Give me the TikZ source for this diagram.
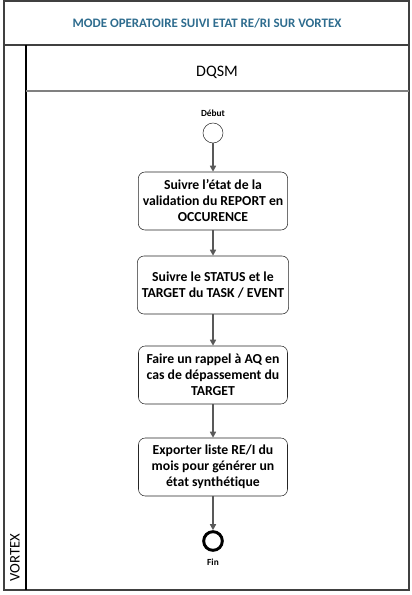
\documentclass[tikz,border=0pt]{standalone}
\usepackage{fontspec}
\setmainfont{Carlito}[Ligatures=NoCommon]
\usetikzlibrary{arrows.meta}
\definecolor{titrebleu}{HTML}{2E6C8E}
\definecolor{cadre}{HTML}{404040}
\definecolor{flux}{HTML}{595959}
\tikzset{
  tache/.style={draw=black!85,rounded corners=5pt,fill=white,
    minimum width=111.75pt,minimum height=43.5pt,align=center,
    font=\bfseries\fontsize{10.3}{12}\selectfont},
  fleche/.style={->,draw=flux,line width=1.1pt},
  evt/.style={circle,draw=black!80,minimum size=15pt,inner sep=0pt},
}
\begin{document}
\begin{tikzpicture}[x=0.75pt,y=-0.75pt,>={Triangle[length=4.5pt,width=4.5pt]}]
  \useasboundingbox (0,0) rectangle (411,595);
  % cadre du pool
  \draw[cadre,line width=1.5pt] (4,1) rectangle (409,590);
  \draw[cadre,line width=1.5pt] (4,45) -- (409,45);
  \draw[black,line width=1.2pt] (26,45) -- (26,590);
  \draw[gray,line width=2pt] (26,91) -- (409,91);
  \node[font=\bfseries\fontsize{9.7}{11}\selectfont,text=titrebleu] (titre) at (207,23) {MODE OPERATOIRE SUIVI ETAT RE/RI SUR VORTEX};
  \node[font=\fontsize{12}{14}\selectfont] (dqsm) at (217,72) {DQSM};
  \node[rotate=90,anchor=west,font=\fontsize{11}{13}\selectfont] (vortex) at (15,586) {VORTEX};
  % evenements et taches
  \node[evt] (debut) at (213,133) {};
  \node[font=\bfseries\fontsize{7}{8}\selectfont,above=1pt] (ldebut) at (debut.north) {Début};
  \node[tache] (t1) at (213,201) {Suivre l’état de la\\validation du REPORT en\\OCCURENCE};
  \node[tache] (t2) at (213,285) {Suivre le STATUS et le\\TARGET du TASK / EVENT};
  \node[tache] (t3) at (213,375) {Faire un rappel à AQ en\\cas de dépassement du\\TARGET};
  \node[tache] (t4) at (213,467) {Exporter liste RE/I du\\mois pour générer un\\état synthétique};
  \node[evt,line width=2.2pt,draw=black,minimum size=14pt] (fin) at (213,541) {};
  \node[font=\bfseries\fontsize{7}{8}\selectfont,below=2pt] (lfin) at (fin.south) {Fin};
  % flux
  \draw[fleche] (debut) -- (t1);
  \draw[fleche] (t1) -- (t2);
  \draw[fleche] (t2) -- (t3);
  \draw[fleche] (t3) -- (t4);
  \draw[fleche] (t4) -- (fin);
\end{tikzpicture}
\end{document}
